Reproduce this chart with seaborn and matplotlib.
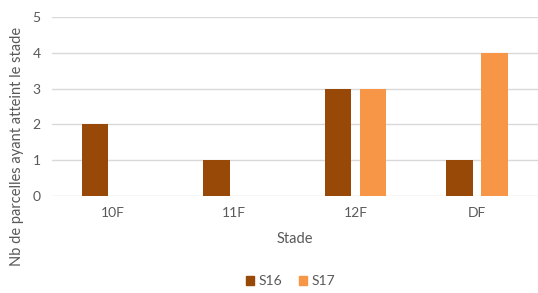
import seaborn as sns
import matplotlib.pyplot as plt
import pandas as pd

stades = ["10F", "11F", "12F", "DF"]
s16 = [2, 1, 3, 1]
s17 = [0, 0, 3, 4]
series = ["S16", "S17"]
colors = ["#984807", "#F79646"]

df = pd.DataFrame({
    "Stade": stades * 2,
    "n": s16 + s17,
    "serie": ["S16"] * len(stades) + ["S17"] * len(stades),
})

sns.set_style("white")
plt.rcParams["font.family"] = ["Lato", "DejaVu Sans"]
grey = "#595959"

fig = plt.figure(figsize=(5.38, 2.93), dpi=100)
ax = fig.add_axes([0.0962, 0.332, 0.9033, 0.609])

sns.barplot(data=df, x="Stade", y="n", hue="serie", palette=colors, saturation=1,
            width=0.575, gap=0.23, linewidth=0, ax=ax, legend=False, zorder=3)

ax.set_ylim(0, 5)
ax.set_yticks(range(6))
ax.grid(axis="y", color="#d9d9d9", linewidth=1, zorder=0)
ax.set_axisbelow(True)
for s in ax.spines.values():
    s.set_visible(False)
ax.tick_params(axis="both", length=0, colors=grey, labelsize=10)
ax.tick_params(axis="x", pad=8)
ax.tick_params(axis="y", pad=8)
ax.set_xlabel("")
ax.set_ylabel("")

fig.text(0.548, 1 - 239 / 293, "Stade", ha="center", va="center", color=grey, fontsize=10.5)
fig.text(17 / 538, 1 - 146 / 293, "Nb de parcelles ayant atteint le stade",
         rotation=90, ha="center", va="center", color=grey, fontsize=10.5)

handles = [plt.Rectangle((0, 0), 1, 1, color=c) for c in colors]
fig.legend(handles, series, loc="center", bbox_to_anchor=(0.54, 1 - 281 / 293),
           ncol=2, frameon=False, handlelength=0.6, handleheight=0.6,
           handletextpad=0.3, columnspacing=1.2, fontsize=10, labelcolor=grey)

fig.savefig("out.png", dpi=100)
